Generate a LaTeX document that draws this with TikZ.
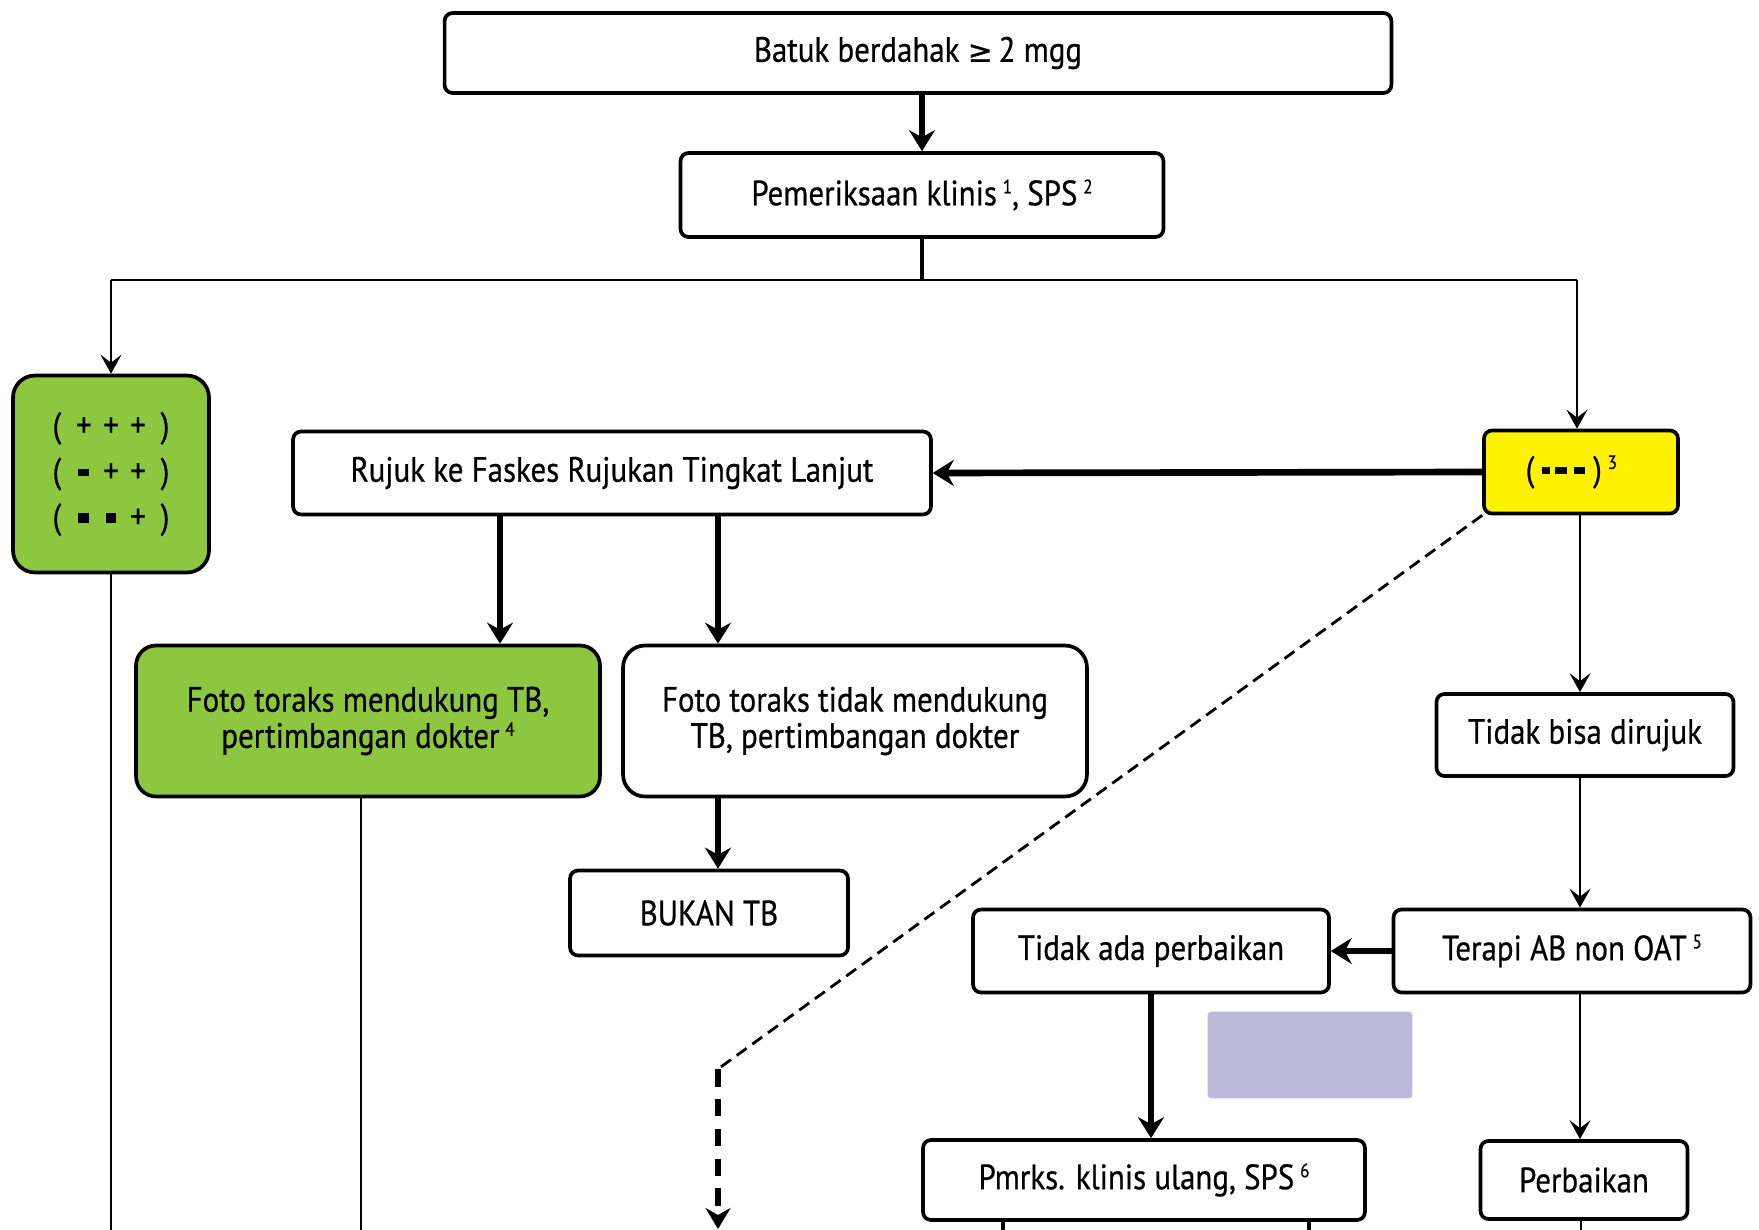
\documentclass[tikz,border=0pt]{standalone}
\usepackage{fontspec}
\setmainfont{PT Sans}[FakeStretch=0.88, FakeBold=0.6]
\newfontfamily\symbolfont{DejaVu Sans}[FakeBold=0.8]
\usetikzlibrary{arrows.meta}
\definecolor{leaf}{HTML}{8DC63F}
\definecolor{lemon}{HTML}{FFF200}
\definecolor{lilac}{HTML}{BBB8DA}
% solid bar used for the minus signs: width, height
\newcommand{\mbar}[2]{\rule[\dimexpr0.3em-#2/2\relax]{#1}{#2}}
\newcommand{\cellc}[1]{\makebox[15.4pt]{#1}}
\newcommand{\supnum}[1]{\,{\fontsize{11}{11}\selectfont\raisebox{0.62em}{#1}}}
\begin{document}
\begin{tikzpicture}[x=0.02cm,y=-0.02cm,
  box/.style={draw=black, line width=2.1pt, rounded corners=0.16cm, fill=white,
    align=center, inner sep=0pt, font=\fontsize{20}{20.6}\selectfont},
  greenbox/.style={box, fill=leaf, rounded corners=0.44cm},
  bigarrow/.style={line width=3.8pt, -{Stealth[length=0.42cm,width=0.52cm,inset=0.14cm]}},
  smallarrow/.style={line width=1.6pt, -{Stealth[length=0.38cm,width=0.42cm,inset=0.16cm]}},
  thinline/.style={line width=1.6pt},
  midline/.style={line width=2.4pt}]
\useasboundingbox (0,0) rectangle (1759,1230);

% boxes
\node[box, minimum width=18.94cm, minimum height=1.60cm] (cough) at (918,53)
  {Batuk berdahak {\symbolfont\fontsize{17}{17}\selectfont ≥}\,2 mgg};
\node[box, minimum width=9.66cm, minimum height=1.68cm] (clinic) at (922,195) {Pemeriksaan klinis\supnum{1}, SPS\supnum{2}};
\node[greenbox, minimum width=3.92cm, minimum height=3.94cm, font=\fontsize{20}{26}\selectfont] (pos) at (111,474)
  {\cellc{(}\cellc{+}\cellc{+}\cellc{+}\cellc{)}\\
   \cellc{(}\cellc{\mbar{6.2pt}{4pt}}\cellc{+}\cellc{+}\cellc{)}\\
   \cellc{(}\cellc{\mbar{6.2pt}{5.6pt}}\cellc{\mbar{6.2pt}{5.6pt}}\cellc{+}\cellc{)}};
\node[box, fill=lemon, minimum width=3.88cm, minimum height=1.66cm] (neg) at (1581,472)
  {(\kern4.4pt\mbar{4.6pt}{3.6pt}\kern2.8pt\mbar{6.8pt}{3.6pt}\kern4pt\mbar{6.3pt}{3.6pt}\kern4.6pt)\supnum{3}\kern11pt};
\node[box, minimum width=12.76cm, minimum height=1.66cm] (refer) at (612,473) {Rujuk ke Faskes Rujukan Tingkat Lanjut};
\node[greenbox, minimum width=9.28cm, minimum height=3.02cm, rounded corners=0.4cm] (xrayyes) at (368,721)
  {Foto toraks mendukung TB,\\ pertimbangan dokter\supnum{4}};
\node[box, minimum width=9.28cm, minimum height=3.02cm, rounded corners=0.44cm] (xrayno) at (855,721)
  {Foto toraks tidak mendukung\\ TB, pertimbangan dokter};
\node[box, minimum width=5.56cm, minimum height=1.70cm] (nottb) at (709,913) {BUKAN TB};
\node[box, minimum width=5.94cm, minimum height=1.64cm] (noref) at (1585,735) {Tidak bisa dirujuk};
\node[box, minimum width=7.14cm, minimum height=1.66cm] (abx) at (1572,951) {Terapi AB non OAT\supnum{5}};
\node[box, minimum width=7.12cm, minimum height=1.66cm] (noimp) at (1151,951) {Tidak ada perbaikan};
\node[fill=lilac, rounded corners=0.08cm, minimum width=4.10cm, minimum height=1.74cm, inner sep=0pt] (blank) at (1310,1055) {};
\node[box, minimum width=8.84cm, minimum height=1.60cm] (recheck) at (1144,1180) {Pmrks. klinis ulang, SPS\supnum{6}};
\node[box, minimum width=4.14cm, minimum height=1.56cm] (improve) at (1584,1180) {Perbaikan};

% branch points and free ends
\coordinate (split) at (922,280);
\coordinate (splitL) at (111,280);
\coordinate (splitR) at (1577,280);
\coordinate (bend) at (718,1069);
\coordinate (endA) at (111,1232);
\coordinate (endB) at (361,1232);
\coordinate (endC) at (718,1229);
\coordinate (endD) at (1003,1232);
\coordinate (endE) at (1309,1232);
\coordinate (endF) at (1581,1232);

% connectors
\draw[bigarrow] (cough.south -| clinic.north) -- (clinic.north);
\draw[midline] (clinic.south) -- (split);
\draw[thinline] (splitL) -- (splitR);
\draw[smallarrow] (splitL) -- (pos.north);
\draw[smallarrow] (splitR) -- (splitR |- neg.north);
\draw[bigarrow] (neg.west) -- (refer.east);
\draw[bigarrow] (refer.south -| 500,0) -- (xrayyes.north -| 500,0);
\draw[bigarrow] (refer.south -| 718,0) -- (xrayno.north -| 718,0);
\draw[bigarrow] (xrayno.south -| 718,0) -- (nottb.north -| 718,0);
\draw[thinline] (pos.south) -- (endA);
\draw[thinline] (xrayyes.south -| endB) -- (endB);
\draw[thinline, dash pattern=on 7pt off 4pt] (neg.south west) -- (bend);
\draw[line width=3.8pt, dash pattern=on 10pt off 7pt, -{Stealth[length=0.42cm,width=0.5cm,inset=0.14cm]}] (bend) -- (endC);
\draw[smallarrow] (neg.south -| 1580,0) -- (noref.north -| 1580,0);
\draw[smallarrow] (noref.south -| 1580,0) -- (abx.north -| 1580,0);
\draw[bigarrow] (abx.west) -- (noimp.east);
\draw[bigarrow] (noimp.south) -- (recheck.north -| noimp.south);
\draw[smallarrow] (abx.south -| 1580,0) -- (improve.north -| 1580,0);
\draw[midline] (recheck.south -| endD) -- (endD);
\draw[midline] (recheck.south -| endE) -- (endE);
\draw[thinline] (improve.south -| endF) -- (endF);
\end{tikzpicture}
\end{document}
